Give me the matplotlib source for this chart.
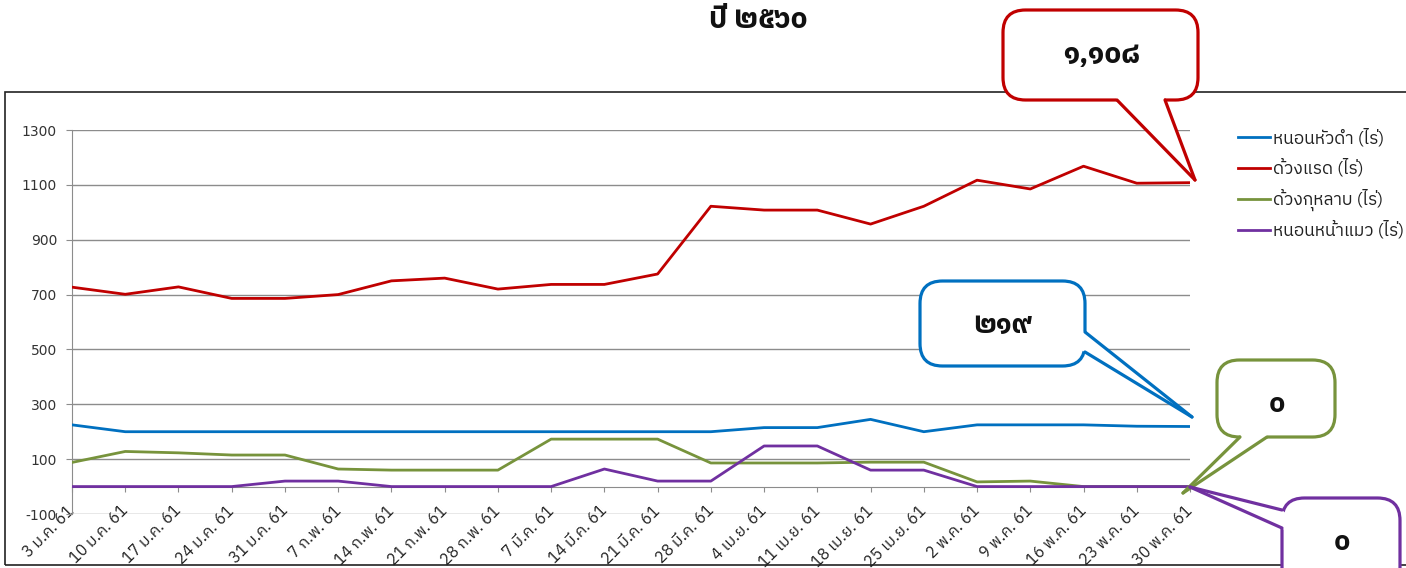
import matplotlib
matplotlib.use("Agg")
import matplotlib.pyplot as plt
from matplotlib import font_manager
from matplotlib.ft2font import FT2Font
from matplotlib.patches import FancyBboxPatch, Polygon, Rectangle
from matplotlib.lines import Line2D

# ---------------- data ----------------
title = "ปี ๒๕๖๐"
categories = ["3 ม.ค. 61", "10 ม.ค. 61", "17 ม.ค. 61", "24 ม.ค. 61", "31 ม.ค. 61",
              "7 ก.พ. 61", "14 ก.พ. 61", "21 ก.พ. 61", "28 ก.พ. 61", "7 มี.ค. 61",
              "14 มี.ค. 61", "21 มี.ค. 61", "28 มี.ค. 61", "4 เม.ย. 61", "11 เม.ย. 61",
              "18 เม.ย. 61", "25 เม.ย. 61", "2 พ.ค. 61", "9 พ.ค. 61", "16 พ.ค. 61",
              "23 พ.ค. 61", "30 พ.ค. 61"]
series_names = ["หนอนหัวดำ (ไร่)", "ด้วงแรด (ไร่)", "ด้วงกุหลาบ (ไร่)", "หนอนหน้าแมว (ไร่)"]
hua_dam = [225, 200, 200, 200, 200, 200, 200, 200, 200, 200, 200, 200, 200,
           215, 215, 245, 200, 225, 225, 225, 220, 219]
duang_raet = [727, 701, 728, 686, 686, 700, 750, 760, 720, 737, 737, 775, 1022,
              1008, 1008, 957, 1022, 1117, 1085, 1168, 1106, 1108]
duang_kulab = [88, 128, 123, 115, 115, 64, 60, 60, 60, 173, 173, 173, 86,
               86, 86, 89, 89, 17, 20, 0, 0, 0]
na_maew = [0, 0, 0, 0, 20, 20, 0, 0, 0, 0, 64, 20, 20,
           148, 148, 60, 60, 0, 0, 0, 0, 0]
y_ticks = [-100, 100, 300, 500, 700, 900, 1100, 1300]
callout_texts = ["๑,๑๐๘", "๒๑๙", "๐", "๐"]

# ---------------- fonts ----------------
thai_font = None
preferred = []
for f in font_manager.fontManager.ttflist:
    try:
        cm = FT2Font(f.fname).get_charmap()
    except Exception:
        continue
    if 0x0E01 in cm and 0x0E51 in cm and 0x0E48 in cm:
        preferred.append(f.name)
for cand in preferred:
    thai_font = cand
    if "Sans" in cand or "Tahoma" in cand:
        break
fams = ([thai_font] if thai_font else []) + ["DejaVu Sans"]
plt.rcParams["font.family"] = fams

W, H = 1406, 568
fig = plt.figure(figsize=(W / 100, H / 100), dpi=100)

def fx(px):
    return px / W

def fy(py):
    return 1 - py / H

ax = fig.add_axes([fx(72), fy(514), fx(1190) - fx(72), fy(130) - fy(514)])

colors = ["#0070C0", "#C00000", "#77933C", "#7030A0"]
xs = list(range(len(categories)))
for vals, c, name in zip([hua_dam, duang_raet, duang_kulab, na_maew], colors, series_names):
    ax.plot(xs, vals, color=c, lw=2.0, label=name, solid_joinstyle="round", zorder=3)

ax.set_xlim(0, len(categories) - 1)
ax.set_ylim(-100, 1300)
ax.set_yticks(y_ticks)
ax.set_yticklabels([str(v) for v in y_ticks], fontsize=10, color="#333333",
                   family=["DejaVu Sans"])
ax.yaxis.grid(True, color="#8c8c8c", lw=1)
ax.set_axisbelow(True)
for s in ["top", "right"]:
    ax.spines[s].set_visible(False)
ax.spines["left"].set_color("#8c8c8c")
ax.spines["bottom"].set_color("#8c8c8c")
ax.spines["bottom"].set_position(("data", 0))
ax.tick_params(axis="y", direction="out", length=4.3, color="#8c8c8c", pad=6.5)
ax.tick_params(axis="x", direction="out", length=3.5, color="#8c8c8c", pad=12)
ax.set_xticks(xs)
ax.set_xticklabels(categories, rotation=45, ha="right", va="center",
                   rotation_mode="anchor", fontsize=11.5, color="#222222")

# title
fig.text(fx(758), fy(20), title, ha="center", va="center", fontsize=21,
         fontweight="bold", color="#111111")

# outer chart border
fig.patches.append(Rectangle((fx(5), fy(565)), 1.2, fy(92) - fy(565),
                             transform=fig.transFigure, fill=False,
                             edgecolor="#222222", lw=1.2))

# legend (placed row by row so that rows are evenly spaced)
handles = ax.get_lines()
for i, (h, name) in enumerate(zip(handles, series_names)):
    ly = 137 + 31 * i
    fig.lines.append(Line2D([fx(1238), fx(1270)], [fy(ly), fy(ly)],
                            transform=fig.transFigure, color=h.get_color(), lw=2.0))
    fig.text(fx(1273), fy(ly + 6), name, ha="left", va="baseline",
             fontsize=12.5, color="#222222")


def callout(x0, y0, x1, y1, base1, base2, tip, color, text, tx, ty, fs):
    box = FancyBboxPatch((fx(x0), fy(y1)), fx(x1) - fx(x0), fy(y0) - fy(y1),
                         boxstyle="round,pad=0,rounding_size=0.016",
                         transform=fig.transFigure, facecolor="white",
                         edgecolor=color, lw=2.3, zorder=10,
                         mutation_aspect=W / H)
    fig.patches.append(box)
    bx = (base1[0] + base2[0]) / 2
    by = (base1[1] + base2[1]) / 2
    cx, cy = (x0 + x1) / 2, (y0 + y1) / 2
    inner1 = (base1[0] + (cx - bx) * 0.06, base1[1] + (cy - by) * 0.12)
    inner2 = (base2[0] + (cx - bx) * 0.06, base2[1] + (cy - by) * 0.12)
    poly = Polygon([(fx(inner1[0]), fy(inner1[1])), (fx(base1[0]), fy(base1[1])),
                    (fx(tip[0]), fy(tip[1])), (fx(base2[0]), fy(base2[1])),
                    (fx(inner2[0]), fy(inner2[1]))],
                   closed=True, transform=fig.transFigure, facecolor="white",
                   edgecolor="none", zorder=11)
    fig.patches.append(poly)
    for b in (base1, base2):
        fig.lines.append(Line2D([fx(b[0]), fx(tip[0])], [fy(b[1]), fy(tip[1])],
                                transform=fig.transFigure, color=color, lw=2.3,
                                zorder=12, solid_capstyle="round"))
    fig.text(fx(tx), fy(ty), text, ha="center", va="center", fontsize=fs,
             fontweight="bold", color="#111111", zorder=13)


callout(1003, 10, 1198, 100, (1117, 100), (1165, 100), (1195, 180),
        "#C00000", callout_texts[0], 1101, 55, 21)
callout(920, 281, 1085, 366, (1085, 332), (1085, 352), (1192, 417),
        "#0070C0", callout_texts[1], 1002, 325, 20)
callout(1217, 360, 1335, 437, (1240, 437), (1267, 437), (1183, 493),
        "#77933C", callout_texts[2], 1277, 405, 20)
callout(1282, 498, 1400, 590, (1282, 510), (1282, 528), (1190, 487),
        "#7030A0", callout_texts[3], 1342, 543, 20)

fig.savefig("out.png", dpi=100)
